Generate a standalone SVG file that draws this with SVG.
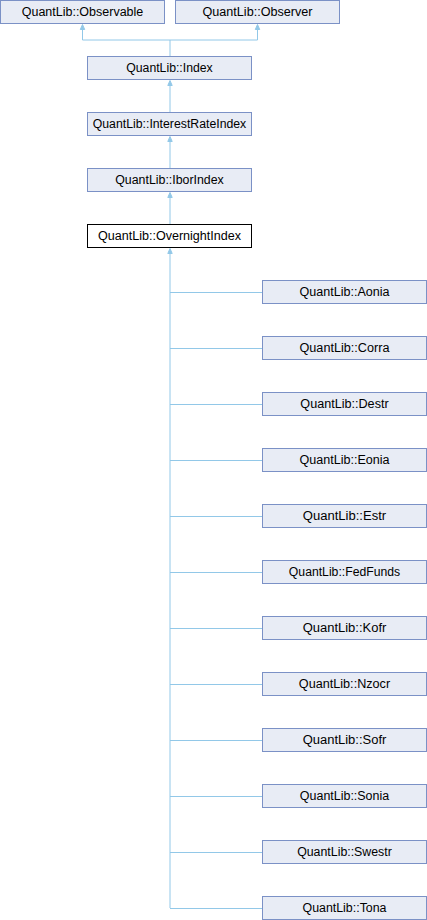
<svg xmlns="http://www.w3.org/2000/svg" width="427" height="920" viewBox="0 0 427 920">
<defs>
<style>
.n rect{fill:#e8ecf5;stroke:#7b91c6;stroke-width:1}
.n.cur rect{fill:#ffffff;stroke:#000000}
.n text{font-family:"Liberation Sans",Arial,sans-serif;font-size:12px;fill:#000;text-anchor:middle}
.e path{fill:none;stroke:#92c8e8;stroke-width:1}
.e polygon{fill:#92c8e8;stroke:#92c8e8;stroke-width:1}
</style>
</defs>
<rect width="427" height="920" fill="#ffffff"/>
<g class="e" id="edges">
<path d="M170,56V40M82.5,40H257.5M82.5,40V29M257.5,40V29"/>
<polygon points="82.5,24.5 80.3,29.5 84.7,29.5"/>
<polygon points="257.5,24.5 255.3,29.5 259.7,29.5"/>
<path d="M170,112V85"/>
<polygon points="170,80.5 167.8,85.5 172.2,85.5"/>
<path d="M170,168V141"/>
<polygon points="170,136.5 167.8,141.5 172.2,141.5"/>
<path d="M170,224V197"/>
<polygon points="170,192.5 167.8,197.5 172.2,197.5"/>
<path d="M170,908V253"/>
<polygon points="170,248.5 167.8,253.5 172.2,253.5"/>
<path d="M170,292.5H262M170,348.5H262M170,404.5H262M170,460.5H262M170,516.5H262M170,572.5H262M170,628.5H262M170,684.5H262M170,740.5H262M170,796.5H262M170,852.5H262M170,908.5H262"/>
</g>
<g class="n" id="observable"><rect x="0.5" y="0.5" width="164" height="23"/><text x="82.5" y="16" textLength="121.5" lengthAdjust="spacingAndGlyphs">QuantLib::Observable</text></g>
<g class="n" id="observer"><rect x="175.5" y="0.5" width="164" height="23"/><text x="257.5" y="16" textLength="110" lengthAdjust="spacingAndGlyphs">QuantLib::Observer</text></g>
<g class="n" id="index"><rect x="87.5" y="56.5" width="164" height="23"/><text x="169.5" y="72" textLength="86.5" lengthAdjust="spacingAndGlyphs">QuantLib::Index</text></g>
<g class="n" id="interestrateindex"><rect x="87.5" y="112.5" width="164" height="23"/><text x="169.5" y="128" textLength="153.5" lengthAdjust="spacingAndGlyphs">QuantLib::InterestRateIndex</text></g>
<g class="n" id="iborindex"><rect x="87.5" y="168.5" width="164" height="23"/><text x="169.5" y="184" textLength="108.5" lengthAdjust="spacingAndGlyphs">QuantLib::IborIndex</text></g>
<g class="n cur" id="overnightindex"><rect x="87.5" y="224.5" width="164" height="23"/><text x="169.5" y="240" textLength="143" lengthAdjust="spacingAndGlyphs">QuantLib::OvernightIndex</text></g>
<g class="n" id="aonia"><rect x="262.5" y="280.5" width="164" height="23"/><text x="344.5" y="296" textLength="90" lengthAdjust="spacingAndGlyphs">QuantLib::Aonia</text></g>
<g class="n" id="corra"><rect x="262.5" y="336.5" width="164" height="23"/><text x="344.5" y="352" textLength="90" lengthAdjust="spacingAndGlyphs">QuantLib::Corra</text></g>
<g class="n" id="destr"><rect x="262.5" y="392.5" width="164" height="23"/><text x="344.5" y="408" textLength="88.3" lengthAdjust="spacingAndGlyphs">QuantLib::Destr</text></g>
<g class="n" id="eonia"><rect x="262.5" y="448.5" width="164" height="23"/><text x="344.5" y="464" textLength="90" lengthAdjust="spacingAndGlyphs">QuantLib::Eonia</text></g>
<g class="n" id="estr"><rect x="262.5" y="504.5" width="164" height="23"/><text x="344.5" y="520" textLength="83.3" lengthAdjust="spacingAndGlyphs">QuantLib::Estr</text></g>
<g class="n" id="fedfunds"><rect x="262.5" y="560.5" width="164" height="23"/><text x="344.5" y="576" textLength="111.3" lengthAdjust="spacingAndGlyphs">QuantLib::FedFunds</text></g>
<g class="n" id="kofr"><rect x="262.5" y="616.5" width="164" height="23"/><text x="344.5" y="632" textLength="83.7" lengthAdjust="spacingAndGlyphs">QuantLib::Kofr</text></g>
<g class="n" id="nzocr"><rect x="262.5" y="672.5" width="164" height="23"/><text x="344.5" y="688" textLength="91.3" lengthAdjust="spacingAndGlyphs">QuantLib::Nzocr</text></g>
<g class="n" id="sofr"><rect x="262.5" y="728.5" width="164" height="23"/><text x="344.5" y="744" textLength="83.7" lengthAdjust="spacingAndGlyphs">QuantLib::Sofr</text></g>
<g class="n" id="sonia"><rect x="262.5" y="784.5" width="164" height="23"/><text x="344.5" y="800" textLength="89.3" lengthAdjust="spacingAndGlyphs">QuantLib::Sonia</text></g>
<g class="n" id="swestr"><rect x="262.5" y="840.5" width="164" height="23"/><text x="344.5" y="856" textLength="94.7" lengthAdjust="spacingAndGlyphs">QuantLib::Swestr</text></g>
<g class="n" id="tona"><rect x="262.5" y="896.5" width="164" height="23"/><text x="344.5" y="912" textLength="84" lengthAdjust="spacingAndGlyphs">QuantLib::Tona</text></g>
</svg>
